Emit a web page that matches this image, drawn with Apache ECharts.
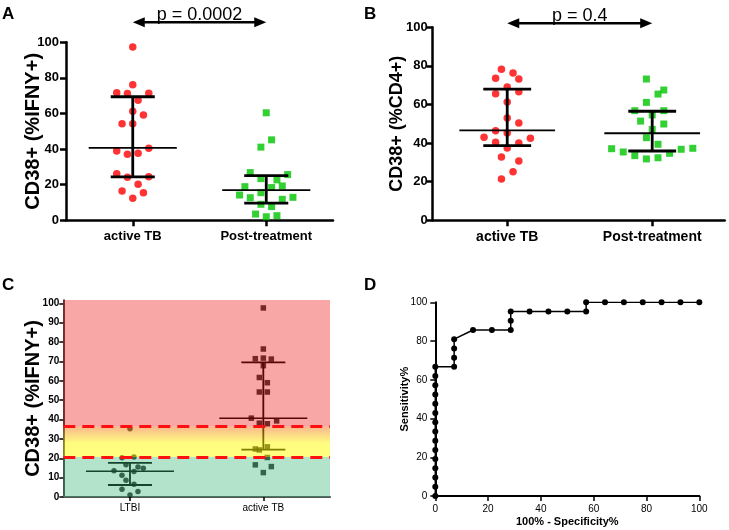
<!DOCTYPE html>
<html><head><meta charset="utf-8">
<script src="https://cdn.jsdelivr.net/npm/echarts@6/dist/echarts.min.js"></script>
<style>html,body{margin:0;padding:0;background:#fff}#c{width:729px;height:530px}</style>
</head><body><div id="c"></div>
<script>
// ---------- data ----------
const catsAB = ['active TB', 'Post-treatment'];
const catsC = ['LTBI', 'active TB'];
const yTicksAB = [0, 20, 40, 60, 80, 100];
const yTicksC = [0, 10, 20, 30, 40, 50, 60, 70, 80, 90, 100];

// Panel A  (CD38+ %IFNY+)
const aActiveY = [97.3, 76.1, 71.6, 71.2, 71.4, 67.5, 61.3, 59.1, 54.2, 54.2, 39.0, 37.1, 37.7, 40.5, 26.1, 24.2, 24.5, 20.3, 16.5, 15.5, 12.4];
const aActiveJit = [0, 0, -0.12, -0.04, 0.12, 0.04, 0, 0.08, -0.08, 0, -0.12, -0.04, 0.04, 0.12, -0.12, -0.04, 0.12, 0.04, -0.08, 0.08, 0];
const aPostY = [60.4, 45.2, 41.1, 26.8, 25.7, 23.4, 22.7, 19.3, 18.9, 18.4, 15.5, 14.2, 12.7, 12.9, 11.8, 9.0, 7.7, 3.5, 2.0, 2.6];
const aPostJit = [0, 0.04, -0.04, -0.12, 0.16, -0.04, 0.08, 0.12, -0.16, 0.04, -0.04, -0.2, -0.12, 0.2, 0.12, -0.04, 0.04, -0.08, 0, 0.08];
const aStats = [[1, 40.7, 24.4, 69.4], [2, 17.0, 9.6, 25.1]]; // [group, median, low, high]
const aP = {from: 1, to: 2, y: 111.2, text: 'p = 0.0002'};

// Panel B  (CD38+ %CD4+)
const bActiveY = [78.2, 76.3, 73.6, 73.2, 69.1, 65.6, 66.6, 61.3, 53.0, 50.4, 46.4, 45.2, 43.0, 42.5, 40.4, 40.1, 37.5, 32.8, 30.7, 25.2, 21.4];
const bActiveJit = [-0.04, 0.04, -0.08, 0.08, 0, -0.08, 0.08, 0, 0, 0.08, -0.08, 0, -0.16, 0.16, -0.08, 0.08, 0, -0.04, 0.08, 0.04, -0.04];
const bPostY = [73.2, 67.5, 65.4, 61.1, 56.8, 56.8, 54.6, 51.4, 49.9, 47.1, 42.8, 39.4, 37.1, 37.3, 35.4, 36.8, 33.5, 34.7, 31.8, 32.4];
const bPostJit = [-0.04, 0.08, 0.04, -0.04, -0.12, 0.08, 0, -0.08, 0.08, 0, -0.04, 0.04, -0.28, 0.28, -0.2, 0.2, -0.12, 0.12, -0.04, 0.04];
const bStats = [[1, 46.6, 38.7, 68.0], [2, 45.1, 35.9, 56.5]];
const bP = {from: 1, to: 2, y: 102.1, text: 'p = 0.4'};

// Panel C  (LTBI vs active TB with cut-offs)
const cLtbiY = [35.2, 20.3, 20.7, 16.6, 15.5, 14.8, 13.5, 13.1, 11.2, 8.6, 6.6, 4.0, 2.8, 1.0];
const cLtbiJit = [0, -0.06, 0.03, -0.03, 0.06, 0.1, -0.12, 0.03, -0.06, -0.03, 0.03, -0.06, 0.06, 0];
const cActiveY = [97.6, 76.4, 71.4, 71.7, 71.2, 67.8, 61.7, 59.0, 54.2, 54.2, 40.7, 39.3, 38.1, 37.8, 24.8, 24.3, 25.9, 20.4, 16.6, 15.7, 12.6];
const cActiveJit = [0, 0, -0.06, 0, 0.06, 0, -0.03, 0.03, -0.03, 0.03, -0.09, 0.1, -0.03, 0.03, -0.06, -0.03, 0.03, 0.03, -0.06, 0.06, 0];
const cStats = [[1, 13.3, 6.2, 17.6], [2, 40.7, 24.5, 69.5]];
const cCutLow = 20.6, cCutHigh = 36.4, cTop = 101.7;

// Panel D  (ROC)
const dX = [0, 0, 0, 0, 0, 0, 0, 0, 0, 0, 0, 0, 0, 0, 0, 7.14, 7.14, 7.14, 7.14, 14.29, 21.43, 28.57, 28.57, 28.57, 35.71, 42.86, 50, 57.14, 57.14, 64.29, 71.43, 78.57, 85.71, 92.86, 100];
const dY = [0, 4.76, 9.52, 14.29, 19.05, 23.81, 28.57, 33.33, 38.10, 42.86, 47.62, 52.38, 57.14, 61.90, 66.67, 66.67, 71.43, 76.19, 80.95, 85.71, 85.71, 85.71, 90.48, 95.24, 95.24, 95.24, 95.24, 95.24, 100, 100, 100, 100, 100, 100, 100];

// ---------- chart ----------
const FF = '"Liberation Sans", Arial, sans-serif';
const pts = (ys, js, g) => ys.map((v, i) => [g + js[i], v]);

function errRender(hw, cw, wm, wb, color) {
  return function (params, api) {
    const x = api.value(0), m = api.value(1), lo = api.value(2), hi = api.value(3);
    const p = (a, b) => api.coord([a, b]);
    const ln = (a, b, w) => ({type: 'line', shape: {x1: a[0], y1: a[1], x2: b[0], y2: b[1]}, style: {stroke: color, lineWidth: w}});
    return {type: 'group', children: [
      ln(p(x, lo), p(x, hi), wb),
      ln(p(x - cw, lo), p(x + cw, lo), wb),
      ln(p(x - cw, hi), p(x + cw, hi), wb),
      ln(p(x - hw, m), p(x + hw, m), wm)
    ]};
  };
}

function catX(gi, min, max, cats, o) {
  return {
    gridIndex: gi, type: 'value', min: min, max: max,
    axisLine: {onZero: false, lineStyle: {color: o.lineColor || '#000', width: o.lw}},
    axisTick: {customValues: [1, 2], length: o.tl, lineStyle: {color: '#000', width: o.tw}},
    axisLabel: {customValues: [1, 2], formatter: v => cats[Math.round(v) - 1], fontSize: o.fs, fontWeight: o.fw, color: '#000', margin: o.margin, fontFamily: FF},
    splitLine: {show: false}
  };
}
function valY(gi, min, max, ticks, o) {
  return {
    gridIndex: gi, type: 'value', min: min, max: max,
    name: o.name || '', nameLocation: 'middle', nameRotate: 90, nameGap: o.nameGap, nameMoveOverlap: false,
    nameTextStyle: {fontSize: o.nfs, fontWeight: 'bold', color: '#000', fontFamily: FF},
    axisLine: {onZero: false, lineStyle: {color: '#000', width: o.lw}},
    axisTick: {customValues: ticks, length: o.tl, lineStyle: {color: '#000', width: o.tw}},
    axisLabel: {customValues: ticks, fontSize: o.fs, fontWeight: o.fw, color: '#000', margin: o.margin, fontFamily: FF},
    splitLine: {show: false}
  };
}

const chart = echarts.init(document.getElementById('c'), null, {renderer: 'canvas'});
const option = {
  animation: false,
  backgroundColor: '#fff',
  title: [
    {text: 'A', left: 2, top: 6},
    {text: 'B', left: 364, top: 6},
    {text: 'C', left: 2, top: 277},
    {text: 'D', left: 364, top: 277}
  ].map(t => Object.assign(t, {padding: 0, textStyle: {fontSize: 17, fontWeight: 'bold', color: '#000', fontFamily: FF}})),
  grid: [
    {left: 66, top: 42.3, width: 267, height: 178},
    {left: 432.7, top: 27.3, width: 292, height: 193},
    {left: 63.3, top: 300, width: 266.7, height: 197},
    {left: 435.3, top: 302.3, width: 264, height: 193.7}
  ],
  xAxis: [
    catX(0, 0.5, 2.5, catsAB, {lw: 2.5, tl: 6, tw: 2.5, fs: 13, fw: 'bold', margin: 10}),
    catX(1, 0.486, 2.5, catsAB, {lw: 2.5, tl: 6, tw: 2.5, fs: 14, fw: 'bold', margin: 10}),
    catX(2, 0.5, 2.5, catsC, {lw: 2, tl: 4, tw: 1.5, fs: 10, fw: 'normal', margin: 6, lineColor: '#555'}),
    {
      gridIndex: 3, type: 'value', min: 0, max: 100, interval: 20,
      name: '100% - Specificity%', nameLocation: 'middle', nameGap: 20, nameMoveOverlap: false,
      nameTextStyle: {fontSize: 11, fontWeight: 'bold', color: '#000', fontFamily: FF},
      axisLine: {onZero: false, lineStyle: {color: '#000', width: 2}},
      axisTick: {length: 5, lineStyle: {color: '#000', width: 1.5}},
      axisLabel: {fontSize: 10, color: '#000', margin: 8, fontFamily: FF},
      splitLine: {show: false}
    }
  ],
  yAxis: [
    valY(0, 0, 100, yTicksAB, {name: 'CD38+ (%IFNY+)', nameGap: 23, nfs: 20, lw: 2.5, tl: 6, tw: 2.5, fs: 13, fw: 'bold', margin: 7}),
    valY(1, 0, 100, yTicksAB, {name: 'CD38+ (%CD4+)', nameGap: 27, nfs: 18, lw: 2.5, tl: 6, tw: 2.5, fs: 13, fw: 'bold', margin: 5}),
    valY(2, 0, cTop, yTicksC, {name: 'CD38+ (%IFNY+)', nameGap: 20, nfs: 20, lw: 1.5, tl: 4, tw: 1.5, fs: 10, fw: 'bold', margin: 4}),
    {
      gridIndex: 3, type: 'value', min: 0, max: 100, interval: 20,
      name: 'Sensitivity%', nameLocation: 'middle', nameRotate: 90, nameGap: 25, nameMoveOverlap: false,
      nameTextStyle: {fontSize: 11, fontWeight: 'bold', color: '#000', fontFamily: FF},
      axisLine: {onZero: false, lineStyle: {color: '#000', width: 2}},
      axisTick: {length: 5, lineStyle: {color: '#000', width: 1.5}},
      axisLabel: {fontSize: 10, color: '#000', margin: 8, fontFamily: FF},
      splitLine: {show: false}
    }
  ],
  series: [
    // Panel A
    {type: 'scatter', xAxisIndex: 0, yAxisIndex: 0, symbol: 'circle', symbolSize: 7.5, itemStyle: {color: '#ff0000'}, data: pts(aActiveY, aActiveJit, 1), z: 2},
    {type: 'scatter', xAxisIndex: 0, yAxisIndex: 0, symbol: 'rect', symbolSize: 7, itemStyle: {color: '#00c400'}, data: pts(aPostY, aPostJit, 2), z: 2},
    {type: 'custom', xAxisIndex: 0, yAxisIndex: 0, renderItem: errRender(0.33, 0.165, 1.8, 2.8, '#000'), encode: {x: 0, y: 1}, data: aStats, z: 3},
    // Panel B
    {type: 'scatter', xAxisIndex: 1, yAxisIndex: 1, symbol: 'circle', symbolSize: 7.5, itemStyle: {color: '#ff0000'}, data: pts(bActiveY, bActiveJit, 1), z: 2},
    {type: 'scatter', xAxisIndex: 1, yAxisIndex: 1, symbol: 'rect', symbolSize: 7, itemStyle: {color: '#00c400'}, data: pts(bPostY, bPostJit, 2), z: 2},
    {type: 'custom', xAxisIndex: 1, yAxisIndex: 1, renderItem: errRender(0.33, 0.165, 1.8, 2.8, '#000'), encode: {x: 0, y: 1}, data: bStats, z: 3},
    // Panel C (black marks under translucent bands)
    {type: 'scatter', xAxisIndex: 2, yAxisIndex: 2, symbol: 'circle', symbolSize: 5.5, itemStyle: {color: '#000'}, data: pts(cLtbiY, cLtbiJit, 1), z: 2},
    {type: 'scatter', xAxisIndex: 2, yAxisIndex: 2, symbol: 'rect', symbolSize: 5.5, itemStyle: {color: '#000'}, data: pts(cActiveY, cActiveJit, 2), z: 2},
    {type: 'custom', xAxisIndex: 2, yAxisIndex: 2, renderItem: errRender(0.33, 0.165, 1.5, 1.8, '#000'), encode: {x: 0, y: 1}, data: cStats, z: 3},
    {
      type: 'line', xAxisIndex: 2, yAxisIndex: 2, data: [], z: 10, silent: true,
      markArea: {
        silent: true, z: 10,
        data: [
          [{yAxis: 0, itemStyle: {color: 'rgba(55,184,118,0.38)'}}, {yAxis: cCutLow}],
          [{yAxis: cCutLow, itemStyle: {color: {type: 'linear', x: 0, y: 0, x2: 0, y2: 1, colorStops: [
            {offset: 0, color: 'rgba(242,112,30,0.5)'},
            {offset: 0.55, color: 'rgba(255,250,0,0.5)'},
            {offset: 1, color: 'rgba(255,255,0,0.5)'}
          ]}}}, {yAxis: cCutHigh}],
          [{yAxis: cCutHigh, itemStyle: {color: 'rgba(239,13,13,0.37)'}}, {yAxis: cTop}]
        ]
      },
      markLine: {
        silent: true, z: 12, symbol: 'none', label: {show: false},
        lineStyle: {color: '#ff1010', width: 3, type: [12, 7]},
        data: [{yAxis: cCutLow}, {yAxis: cCutHigh}]
      }
    },
    // Panel D
    {type: 'line', xAxisIndex: 3, yAxisIndex: 3, symbol: 'circle', symbolSize: 6, showSymbol: true,
     lineStyle: {color: '#000', width: 1.5}, itemStyle: {color: '#000'},
     data: dX.map((x, i) => [x, dY[i]])}
  ]
};
chart.setOption(option);

// p-value arrows, placed through the grid's own coordinate conversion
function arrow(gi, a) {
  const p1 = chart.convertToPixel({gridIndex: gi}, [a.from, a.y]);
  const p2 = chart.convertToPixel({gridIndex: gi}, [a.to, a.y]);
  const L = 12, H = 5;
  return [
    {type: 'line', shape: {x1: p1[0] + 6, y1: p1[1], x2: p2[0] - 6, y2: p2[1]}, style: {stroke: '#000', lineWidth: 2.5}},
    {type: 'polygon', shape: {points: [[p1[0], p1[1]], [p1[0] + L, p1[1] - H], [p1[0] + L, p1[1] + H]]}, style: {fill: '#000'}},
    {type: 'polygon', shape: {points: [[p2[0], p2[1]], [p2[0] - L, p2[1] - H], [p2[0] - L, p2[1] + H]]}, style: {fill: '#000'}},
    {type: 'text', x: (p1[0] + p2[0]) / 2, y: p1[1] + 1.5, style: {text: a.text, fill: '#000', font: '18px ' + FF, textAlign: 'center', textVerticalAlign: 'bottom'}}
  ];
}
chart.setOption({graphic: {elements: arrow(0, aP).concat(arrow(1, bP))}});
</script>
</body></html>
